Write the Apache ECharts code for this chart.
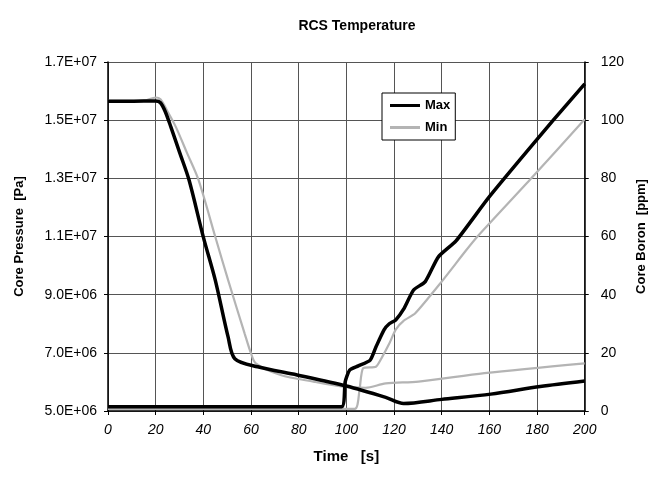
<!DOCTYPE html>
<html>
<head>
<meta charset="utf-8">
<script src="https://cdn.jsdelivr.net/npm/echarts@6/dist/echarts.min.js"></script>
<style>html,body{margin:0;padding:0;background:#fff}#c{width:656px;height:480px}</style>
</head>
<body>
<div id="c"></div>
<script>
// Time axis ticks
var timeTicks = [0, 20, 40, 60, 80, 100, 120, 140, 160, 180, 200];

// Max core pressure [Pa]
var maxPressureT = [0, 10, 20, 22, 24, 26.4, 30, 34, 40, 45, 50.4, 53.2, 62.8, 79.3, 100, 116.5, 124, 140, 160.6, 181.3, 200];
var maxPressure  = [1.565e7, 1.565e7, 1.566e7, 1.56e7, 1.53e7, 1.476e7, 1.39e7, 1.294e7, 1.098e7, 9.5e6, 7.54e6, 6.8e6, 6.52e6, 6.24e6, 5.86e6, 5.47e6, 5.26e6, 5.40e6, 5.58e6, 5.84e6, 6.03e6];

// Min core pressure [Pa]
var minPressureT = [0, 15, 20, 22, 25, 28.5, 33, 38, 45, 50.4, 57.3, 60, 62, 72.4, 86.2, 98.6, 108, 116.5, 130.3, 157.9, 200];
var minPressure  = [1.566e7, 1.567e7, 1.578e7, 1.572e7, 1.53e7, 1.476e7, 1.39e7, 1.294e7, 1.099e7, 9.5e6, 7.67e6, 6.98e6, 6.64e6, 6.24e6, 6.01e6, 5.84e6, 5.80e6, 5.95e6, 6.01e6, 6.30e6, 6.64e6];

// Max core boron [ppm]
var maxBoronT = [0, 98, 99.5, 101.4, 105, 110, 112.4, 115.8, 118, 120.7, 124, 128.2, 133.1, 138.6, 146, 160, 186.8, 200];
var maxBoron  = [1.5, 1.5, 10, 14.1, 15.5, 17.5, 22, 27.9, 30, 31.3, 35, 41.6, 44.5, 53, 58.5, 73.7, 100, 112.5];

// Min core boron [ppm]
var minBoronT = [0, 103.5, 105.5, 107, 112.4, 115.1, 117.9, 120.7, 124, 128.9, 140, 150, 155, 177, 200];
var minBoron  = [0.7, 0.7, 7.2, 14.7, 15.2, 18.7, 23, 28, 31, 33.6, 44.5, 55, 60, 79.5, 100.3];

function pairs(t, v) { return t.map(function (x, i) { return [x, v[i]]; }); }
function sci(v) {
  var e = Math.floor(Math.log10(v) + 1e-9);
  var m = v / Math.pow(10, e);
  return m.toFixed(1) + 'E+' + (e < 10 ? '0' : '') + e;
}

var FONT = '"Liberation Sans", Arial, sans-serif';
var MAXC = '#000', MINC = '#b4b4b4';
var chart = echarts.init(document.getElementById('c'), null, { renderer: 'canvas' });
chart.setOption({
  backgroundColor: '#fff',
  animation: false,
  textStyle: { fontFamily: FONT },
  title: {
    text: 'RCS Temperature',
    left: 352, top: 14, textAlign: 'center',
    textStyle: { fontFamily: FONT, fontSize: 14, fontWeight: 'bold', color: '#000' }
  },
  legend: {
    data: ['Max', 'Min'],
    icon: 'rect',
    orient: 'vertical',
    left: 382, top: 93,
    padding: [6, 5, 6, 8],
    itemWidth: 30, itemHeight: 3, itemGap: 9,
    backgroundColor: '#fff',
    borderColor: '#000', borderWidth: 1,
    textStyle: { fontFamily: FONT, fontSize: 13, fontWeight: 'bold', color: '#000' }
  },
  grid: { left: 108, right: 64, top: 62, bottom: 69, containLabel: false },
  xAxis: {
    type: 'value', min: 0, max: 200, interval: 20,
    name: 'Time   [s]', nameLocation: 'middle', nameGap: 38,
    nameTextStyle: { fontFamily: FONT, fontSize: 15, fontWeight: 'bold', color: '#000' },
    axisLine: { lineStyle: { color: '#000', width: 1.5 } },
    axisTick: { show: true, length: 4, lineStyle: { color: '#000' } },
    axisLabel: { margin: 12, fontFamily: FONT, fontSize: 14, fontStyle: 'italic', color: '#000',
      formatter: function (v) { return timeTicks.indexOf(v) >= 0 ? String(v) : ''; } },
    splitLine: { show: true, lineStyle: { color: '#555', width: 1 } }
  },
  yAxis: [{
    type: 'value', min: 5e6, max: 1.7e7, interval: 2e6,
    position: 'left',
    name: 'Core Pressure  [Pa]', nameLocation: 'middle', nameGap: 82, nameRotate: 90,
    nameTextStyle: { fontFamily: FONT, fontSize: 13, fontWeight: 'bold', color: '#000' },
    axisLine: { show: true, lineStyle: { color: '#000', width: 1.5 } },
    axisTick: { show: true, length: 4, lineStyle: { color: '#000' } },
    axisLabel: { margin: 11, fontFamily: FONT, fontSize: 14, color: '#000', formatter: sci },
    splitLine: { show: true, lineStyle: { color: '#555', width: 1 } }
  }, {
    type: 'value', min: 0, max: 120, interval: 20,
    position: 'right',
    name: 'Core Boron  [ppm]', nameLocation: 'middle', nameGap: 46, nameRotate: 90,
    nameTextStyle: { fontFamily: FONT, fontSize: 13, fontWeight: 'bold', color: '#000' },
    axisLine: { show: true, lineStyle: { color: '#000', width: 1.5 } },
    axisTick: { show: true, length: 4, lineStyle: { color: '#000' } },
    axisLabel: { margin: 16, fontFamily: FONT, fontSize: 14, color: '#000' },
    splitLine: { show: false }
  }],
  series: [{
    name: 'Max', type: 'line', yAxisIndex: 0, symbol: 'none', smooth: 0.3,
    data: pairs(maxPressureT, maxPressure),
    lineStyle: { color: MAXC, width: 3.5 }, itemStyle: { color: MAXC }, z: 4
  }, {
    name: 'Min', type: 'line', yAxisIndex: 0, symbol: 'none', smooth: 0.3,
    data: pairs(minPressureT, minPressure),
    lineStyle: { color: MINC, width: 2.2 }, itemStyle: { color: MINC }, z: 3
  }, {
    name: 'Max', type: 'line', yAxisIndex: 1, symbol: 'none', smooth: 0.2,
    data: pairs(maxBoronT, maxBoron),
    lineStyle: { color: MAXC, width: 3.5 }, itemStyle: { color: MAXC }, z: 4
  }, {
    name: 'Min', type: 'line', yAxisIndex: 1, symbol: 'none', smooth: 0.2,
    data: pairs(minBoronT, minBoron),
    lineStyle: { color: MINC, width: 2.2 }, itemStyle: { color: MINC }, z: 3
  }]
});
</script>
</body>
</html>
